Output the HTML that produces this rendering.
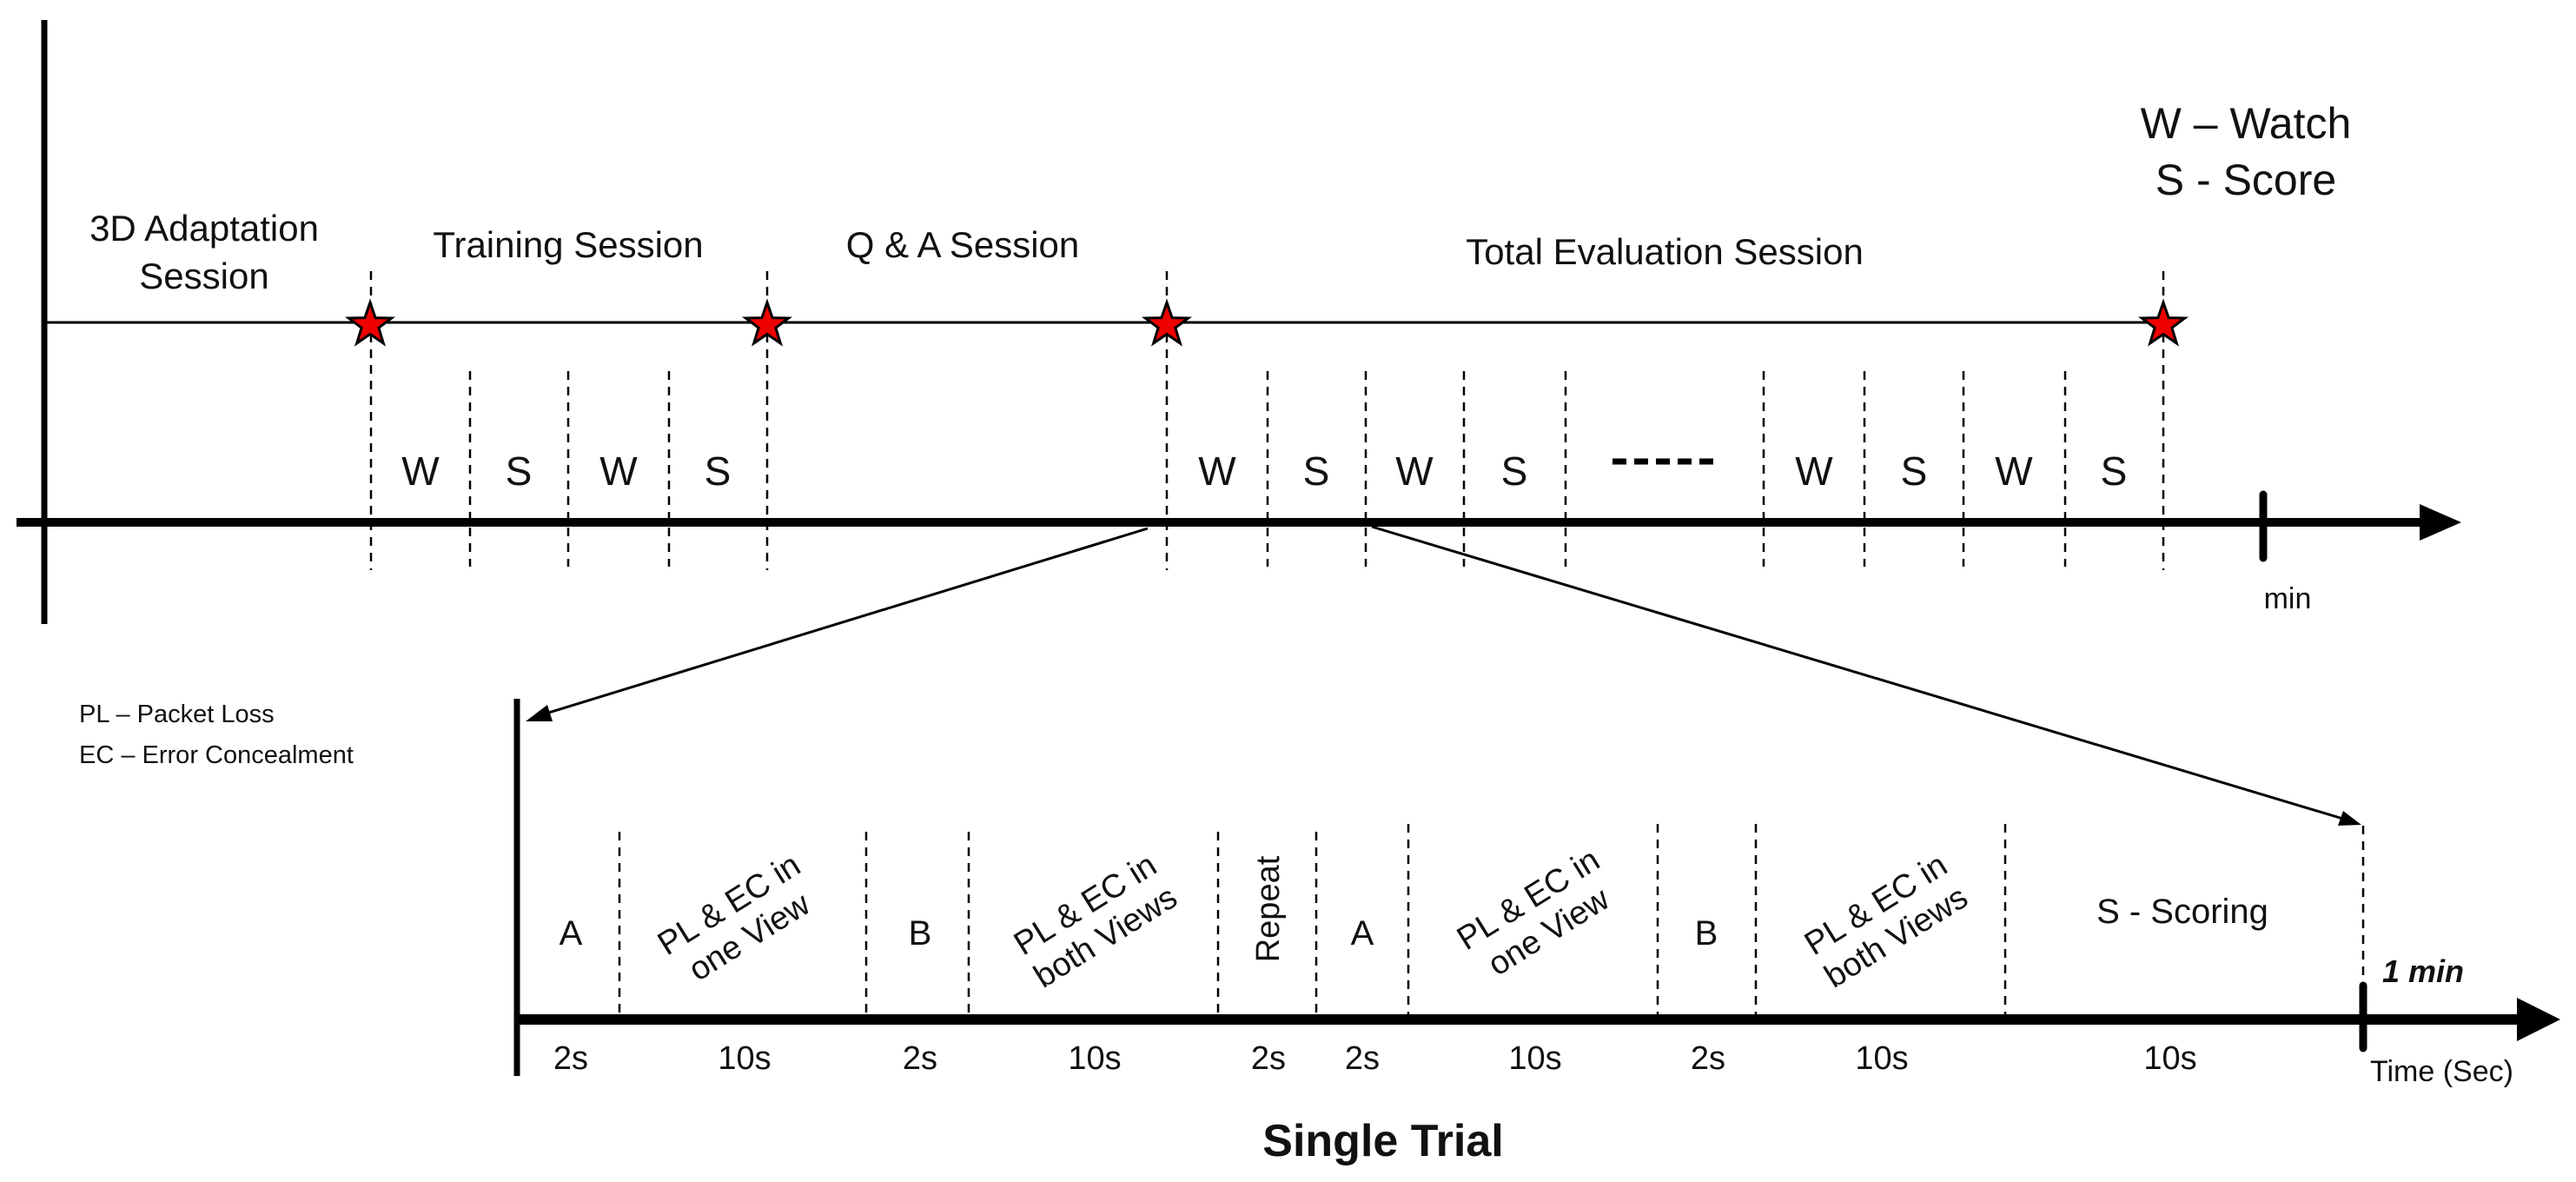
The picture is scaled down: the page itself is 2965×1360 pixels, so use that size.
<!DOCTYPE html>
<html><head><meta charset="utf-8"><style>
html,body{margin:0;padding:0;background:#fff}
svg{display:block}
text{font-family:"Liberation Sans Narrow","Liberation Sans",sans-serif;fill:#111}
</style></head><body>
<svg width="2965" height="1360" viewBox="0 0 2965 1360" xmlns="http://www.w3.org/2000/svg">
<defs>
<polygon id="star" points="0,-26 6.1,-8.4 24.7,-8 9.9,3.2 15.3,21 0,10.5 -15.3,21 -9.9,3.2 -24.7,-8 -6.1,-8.4" fill="#e00" stroke="#000" stroke-width="3"/>
</defs>
<!-- top axes -->
<line x1="51" y1="23" x2="51" y2="718" stroke="#000" stroke-width="7"/>
<line x1="51" y1="371" x2="2492" y2="371" stroke="#000" stroke-width="3"/>
<line x1="19" y1="601" x2="2790" y2="601" stroke="#000" stroke-width="10"/>
<polygon points="2785,580 2833,601 2785,622" fill="#000"/>
<line x1="2605" y1="569" x2="2605" y2="642" stroke="#000" stroke-width="9" stroke-linecap="round"/>
<!-- dashed lines top -->
<g stroke="#000" stroke-width="2.5" stroke-dasharray="10,8">
<line x1="427" y1="312" x2="427" y2="656"/>
<line x1="883" y1="312" x2="883" y2="656"/>
<line x1="1343" y1="312" x2="1343" y2="656"/>
<line x1="2490" y1="312" x2="2490" y2="656"/>
<line x1="541" y1="427" x2="541" y2="652"/>
<line x1="654" y1="427" x2="654" y2="652"/>
<line x1="770" y1="427" x2="770" y2="652"/>
<line x1="1459" y1="427" x2="1459" y2="652"/>
<line x1="1572" y1="427" x2="1572" y2="652"/>
<line x1="1685" y1="427" x2="1685" y2="652"/>
<line x1="1802" y1="427" x2="1802" y2="652"/>
<line x1="2030" y1="427" x2="2030" y2="652"/>
<line x1="2146" y1="427" x2="2146" y2="652"/>
<line x1="2260" y1="427" x2="2260" y2="652"/>
<line x1="2377" y1="427" x2="2377" y2="652"/>
</g>
<use href="#star" x="426" y="374"/>
<use href="#star" x="883" y="374"/>
<use href="#star" x="1343" y="374"/>
<use href="#star" x="2490" y="374"/>
<!-- top labels -->
<g font-size="42" text-anchor="middle">
<text x="235" y="277">3D Adaptation</text>
<text x="235" y="332">Session</text>
<text x="654" y="296">Training Session</text>
<text x="1108" y="296">Q &amp; A Session</text>
<text x="1916" y="304">Total Evaluation Session</text>
</g>
<g font-size="50" text-anchor="middle">
<text x="2585" y="159">W – Watch</text>
<text x="2585" y="224">S - Score</text>
</g>
<g font-size="46" text-anchor="middle">
<text x="484" y="558">W</text><text x="597" y="558">S</text><text x="712" y="558">W</text><text x="826" y="558">S</text>
<text x="1401" y="558">W</text><text x="1515" y="558">S</text><text x="1628" y="558">W</text><text x="1743" y="558">S</text>
<text x="2088" y="558">W</text><text x="2203" y="558">S</text><text x="2318" y="558">W</text><text x="2433" y="558">S</text>
</g>
<line x1="1856" y1="531" x2="1977" y2="531" stroke="#000" stroke-width="7" stroke-dasharray="16,9"/>
<text x="2633" y="700" font-size="34" text-anchor="middle">min</text>
<!-- connector arrows -->
<line x1="1321" y1="608" x2="625" y2="822" stroke="#000" stroke-width="3"/>
<polygon points="605,830 630,811 636,830" fill="#000"/>
<line x1="1579" y1="606" x2="2700" y2="943" stroke="#000" stroke-width="3"/>
<polygon points="2718,949 2691,950 2697,933" fill="#000"/>
<!-- legend -->
<g font-size="29">
<text x="91" y="831">PL – Packet Loss</text>
<text x="91" y="878">EC – Error Concealment</text>
</g>
<!-- bottom axes -->
<line x1="595" y1="804" x2="595" y2="1238" stroke="#000" stroke-width="7"/>
<line x1="595" y1="1173" x2="2905" y2="1173" stroke="#000" stroke-width="12"/>
<polygon points="2897,1148 2947,1173 2897,1198" fill="#000"/>
<line x1="2720" y1="1134" x2="2720" y2="1206" stroke="#000" stroke-width="9" stroke-linecap="round"/>
<g stroke="#000" stroke-width="2.5" stroke-dasharray="10,8">
<line x1="713" y1="957" x2="713" y2="1167"/>
<line x1="997" y1="957" x2="997" y2="1167"/>
<line x1="1115" y1="957" x2="1115" y2="1167"/>
<line x1="1402" y1="957" x2="1402" y2="1167"/>
<line x1="1515" y1="957" x2="1515" y2="1167"/>
<line x1="1621" y1="948" x2="1621" y2="1167"/>
<line x1="1908" y1="948" x2="1908" y2="1167"/>
<line x1="2021" y1="948" x2="2021" y2="1167"/>
<line x1="2308" y1="948" x2="2308" y2="1167"/>
<line x1="2720" y1="950" x2="2720" y2="1134"/>
</g>
<g font-size="40" text-anchor="middle">
<text x="657" y="1087">A</text>
<text x="1059" y="1087">B</text>
<text x="1568" y="1087">A</text>
<text x="1964" y="1087">B</text>
<text x="2512" y="1062">S - Scoring</text>
</g>
<g font-size="38" text-anchor="middle">
<g transform="translate(850,1058) rotate(-32)"><text x="0" y="-8">PL &amp; EC in</text><text x="0" y="36">one View</text></g>
<g transform="translate(1260,1058) rotate(-32)"><text x="0" y="-8">PL &amp; EC in</text><text x="0" y="36">both Views</text></g>
<g transform="translate(1770,1052) rotate(-32)"><text x="0" y="-8">PL &amp; EC in</text><text x="0" y="36">one View</text></g>
<g transform="translate(2170,1058) rotate(-32)"><text x="0" y="-8">PL &amp; EC in</text><text x="0" y="36">both Views</text></g>
<g transform="translate(1472,1046) rotate(-90)"><text x="0" y="0">Repeat</text></g>
</g>
<g font-size="38" text-anchor="middle">
<text x="657" y="1230">2s</text><text x="857" y="1230">10s</text><text x="1059" y="1230">2s</text><text x="1260" y="1230">10s</text>
<text x="1460" y="1230">2s</text><text x="1568" y="1230">2s</text><text x="1767" y="1230">10s</text><text x="1966" y="1230">2s</text>
<text x="2166" y="1230">10s</text><text x="2498" y="1230">10s</text>
</g>
<text x="2742" y="1130" font-size="36" font-style="italic" font-weight="bold">1 min</text>
<text x="2728" y="1244" font-size="34">Time (Sec)</text>
<text x="1592" y="1330" font-size="52" font-weight="bold" text-anchor="middle">Single Trial</text>
</svg>
</body></html>
